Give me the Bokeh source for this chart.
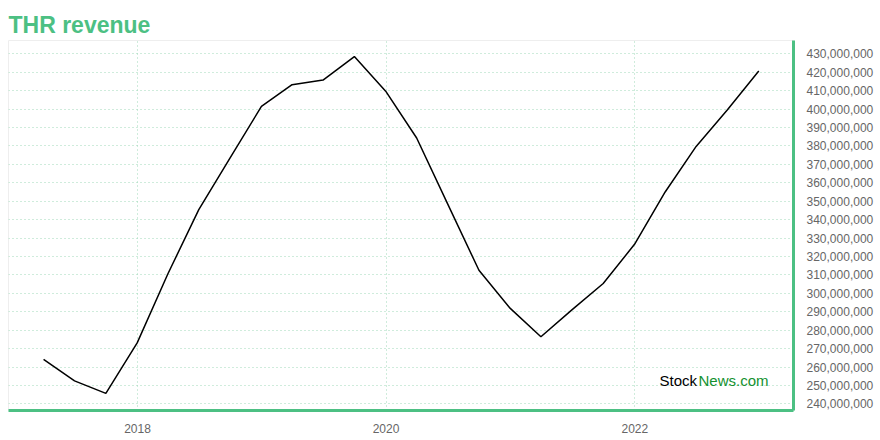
from datetime import datetime
from bokeh.plotting import figure
from bokeh.models import (Range1d, FixedTicker, SingleIntervalTicker, NumeralTickFormatter,
                          DatetimeTickFormatter, Label, ColumnDataSource)
from bokeh.embed import file_html
from bokeh.resources import INLINE

dates = ["2017-03-31", "2017-06-30", "2017-09-30", "2017-12-31",
         "2018-03-31", "2018-06-30", "2018-09-30", "2018-12-31",
         "2019-03-31", "2019-06-30", "2019-09-30", "2019-12-31",
         "2020-03-31", "2020-06-30", "2020-09-30", "2020-12-31",
         "2021-03-31", "2021-06-30", "2021-09-30", "2021-12-31",
         "2022-03-31", "2022-06-30", "2022-09-30", "2022-12-31"]
revenue = [264.1e6, 252.5e6, 245.7e6, 273.1e6,
           310.5e6, 345.4e6, 373.5e6, 401.4e6,
           413.2e6, 415.7e6, 428.5e6, 409.7e6,
           384.3e6, 348.5e6, 312.5e6, 291.8e6,
           276.4e6, 291.0e6, 305.3e6, 326.6e6,
           355.0e6, 379.7e6, 399.6e6, 420.6e6]
tick_years = [2018, 2020, 2022]

GREEN = "#4cc083"
GRID = "#9fd9b9"

x = [datetime.strptime(d, "%Y-%m-%d") for d in dates]
src = ColumnDataSource(data=dict(x=x, y=revenue))

p = figure(frame_width=785, frame_height=370, x_axis_type="datetime",
           y_axis_location="right", output_backend="svg", toolbar_location=None,
           min_border_left=8, min_border_top=40, min_border_bottom=0, min_border_right=0,
           background_fill_color="white", border_fill_color="white")

p.x_range = Range1d(datetime(2016, 12, 18), datetime(2023, 4, 12))
p.y_range = Range1d(236.4e6, 437.2e6)

p.title.text = "THR revenue"
p.title.text_font = "Liberation Sans"
p.title.text_font_size = "23px"
p.title.text_font_style = "bold"
p.title.text_color = GREEN
p.title.offset = 0
p.title.standoff = 6

p.line("x", "y", source=src, line_color="black", line_width=1.5)

tick_ms = [datetime(yr, 1, 1).timestamp() * 1000 for yr in tick_years]
p.xaxis.ticker = FixedTicker(ticks=tick_ms)
p.xaxis.formatter = DatetimeTickFormatter(years="%Y", months="%Y", days="%Y")
p.yaxis.ticker = SingleIntervalTicker(interval=10e6)
p.yaxis.formatter = NumeralTickFormatter(format="0,0")

for ax in (p.xaxis[0], p.yaxis[0]):
    ax.axis_line_color = GREEN
    ax.axis_line_width = 3
    ax.major_tick_line_color = None
    ax.minor_tick_line_color = None
    ax.major_label_text_font = "Liberation Sans"
    ax.major_label_text_font_size = "12px"
    ax.major_label_text_color = "#666666"
    ax.major_label_standoff = 7

p.xgrid.ticker = p.xaxis[0].ticker
p.ygrid.ticker = p.yaxis[0].ticker
for g in (p.xgrid[0], p.ygrid[0]):
    g.grid_line_color = GRID
    g.grid_line_dash = "1 3"
    g.grid_line_width = 1

p.outline_line_color = "#eeeeee"
p.outline_line_width = 1

p.add_layout(Label(x=651, y=30, x_units="screen", y_units="screen", text="Stock",
                   text_font="Liberation Sans", text_font_size="15px", text_color="black",
                   text_baseline="alphabetic"))
p.add_layout(Label(x=690, y=30, x_units="screen", y_units="screen", text="News.com",
                   text_font="Liberation Sans", text_font_size="15px", text_color="#13912f",
                   text_baseline="alphabetic"))

open("out.html", "w").write(file_html(p, INLINE))
